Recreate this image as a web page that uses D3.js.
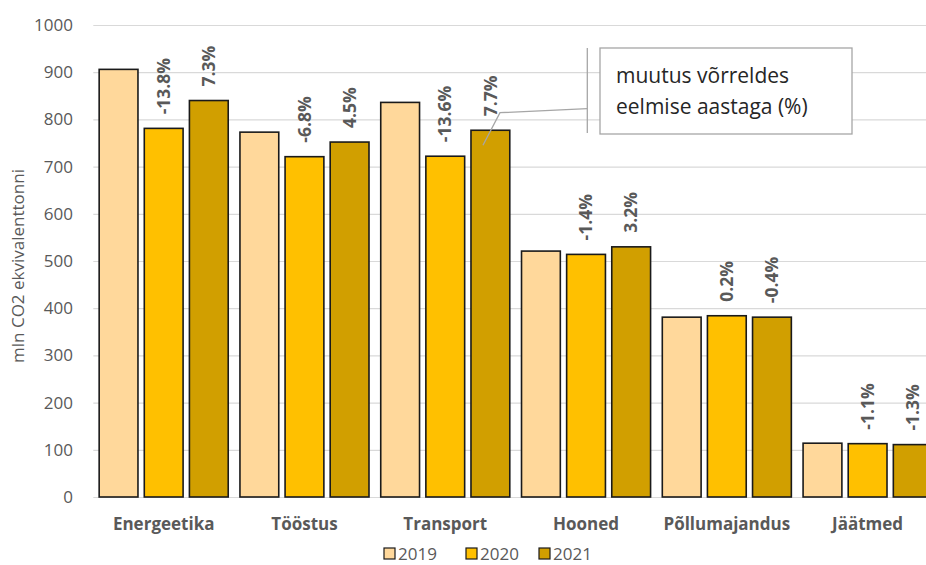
<!DOCTYPE html>
<html>
<head>
<meta charset="utf-8">
<script src="https://cdn.jsdelivr.net/npm/d3@7"></script>
<style>
  html, body { margin: 0; padding: 0; background: #fff; }
  svg { display: block; }
</style>
</head>
<body>
<svg id="chart" width="926" height="565"></svg>
<script>
const categories = ["Energeetika", "Tööstus", "Transport", "Hooned", "Põllumajandus", "Jäätmed"];
const years = ["2019", "2020", "2021"];
const values2019 = [906, 773, 836, 521, 381, 114];
const values2020 = [781, 721, 722, 514, 384, 113];
const values2021 = [840, 752, 777, 530, 381, 111];
const pct2020 = ["-13.8%", "-6.8%", "-13.6%", "-1.4%", "0.2%", "-1.1%"];
const pct2021 = ["7.3%", "4.5%", "7.7%", "3.2%", "-0.4%", "-1.3%"];
const yTicks = [0, 100, 200, 300, 400, 500, 600, 700, 800, 900, 1000];
const yTitle = "mln CO2 ekvivalenttonni";
const noteLines = ["muutus võrreldes", "eelmise aastaga (%)"];

const colors = { "2019": "#FFD89B", "2020": "#FFC000", "2021": "#D19F00" };
const seriesValues = { "2019": values2019, "2020": values2020, "2021": values2021 };
const seriesPct = { "2020": pct2020, "2021": pct2021 };

const font = "'Open Sans', 'DejaVu Sans', sans-serif";
const textColor = "#595959";

const svg = d3.select("#chart");

const x0 = d3.scaleBand().domain(categories).range([93.3, 938]).padding(0);
const x1 = d3.scaleBand().domain(years).range([0, x0.bandwidth()]).paddingInner(0.14).paddingOuter(0.13);
const y = d3.scaleLinear().domain([0, 1000]).range([497, 25]);

// gridlines
svg.append("g").selectAll("line").data(yTicks).join("line")
  .attr("x1", 93.3).attr("x2", 926)
  .attr("y1", d => y(d) + 0.5).attr("y2", d => y(d) + 0.5)
  .attr("stroke", "#d9d9d9").attr("stroke-width", 1.2);

// y axis labels
const yAxis = d3.axisLeft(y).tickValues(yTicks).tickFormat(d3.format("d")).tickSize(0).tickPadding(0);
const ya = svg.append("g").attr("transform", "translate(73,0)").call(yAxis);
ya.select(".domain").remove();
ya.selectAll("text").attr("font-family", font).attr("font-size", 17).attr("fill", textColor);

// y title
svg.append("text")
  .attr("transform", `translate(24,${266}) rotate(-90)`)
  .attr("text-anchor", "middle")
  .attr("font-family", font).attr("font-size", 17).attr("fill", textColor)
  .text(yTitle);

// bars
const rows = categories.map((c, i) => ({ cat: c, i }));
const groups = svg.append("g").selectAll("g").data(rows).join("g")
  .attr("transform", d => `translate(${x0(d.cat)},0)`);

groups.selectAll("rect").data(d => years.map(yr => ({ yr, v: seriesValues[yr][d.i] }))).join("rect")
  .attr("x", d => x1(d.yr))
  .attr("y", d => y(d.v))
  .attr("width", x1.bandwidth())
  .attr("height", d => y(0) - y(d.v))
  .attr("fill", d => colors[d.yr])
  .attr("stroke", "#1a1a1a").attr("stroke-width", 1.6);

// pct labels
groups.selectAll("text.pct").data(d => ["2020", "2021"].map(yr => ({ yr, v: seriesValues[yr][d.i], t: seriesPct[yr][d.i] }))).join("text")
  .attr("class", "pct")
  .attr("transform", d => `translate(${x1(d.yr) + x1.bandwidth() / 2},${y(d.v) - 14}) rotate(-90)`)
  .attr("dy", "0.35em")
  .attr("text-anchor", "start")
  .attr("font-family", font).attr("font-size", 17.5).attr("font-weight", "bold")
  .attr("fill", textColor)
  .text(d => d.t);

// category labels
svg.append("g").selectAll("text").data(categories).join("text")
  .attr("x", d => x0(d) + x0.bandwidth() / 2)
  .attr("y", 530)
  .attr("text-anchor", "middle")
  .attr("font-family", font).attr("font-size", 17).attr("font-weight", "bold")
  .attr("fill", textColor)
  .text(d => d);

// legend
const legendX = [384, 466, 539];
const lg = svg.append("g").selectAll("g").data(years).join("g")
  .attr("transform", (d, i) => `translate(${legendX[i]},548)`);
lg.append("rect").attr("width", 11).attr("height", 11)
  .attr("fill", d => colors[d]).attr("stroke", "#1a1a1a").attr("stroke-width", 1.2);
lg.append("text").attr("x", 14).attr("y", 11.5)
  .attr("font-family", font).attr("font-size", 17).attr("fill", textColor)
  .text(d => d);

// annotation
const tIdx = categories.indexOf("Transport");
const ax = x0("Transport") + x1("2021") + 12;
const ay = y(values2021[tIdx]) + 15;
svg.append("polyline")
  .attr("points", `587.3,108.7 500,112.7 ${ax},${ay}`)
  .attr("fill", "none").attr("stroke", "#a6a6a6").attr("stroke-width", 1.3);
svg.append("line").attr("x1", 587.3).attr("x2", 587.3).attr("y1", 48).attr("y2", 133)
  .attr("stroke", "#a6a6a6").attr("stroke-width", 1.3);
svg.append("rect").attr("x", 600).attr("y", 48).attr("width", 252).attr("height", 86)
  .attr("fill", "#fff").attr("stroke", "#a6a6a6").attr("stroke-width", 1.3);
svg.append("g").selectAll("text").data(noteLines).join("text")
  .attr("x", 616).attr("y", (d, i) => 83 + i * 31)
  .attr("font-family", font).attr("font-size", 21).attr("fill", "#262626")
  .text(d => d);
</script>
</body>
</html>
